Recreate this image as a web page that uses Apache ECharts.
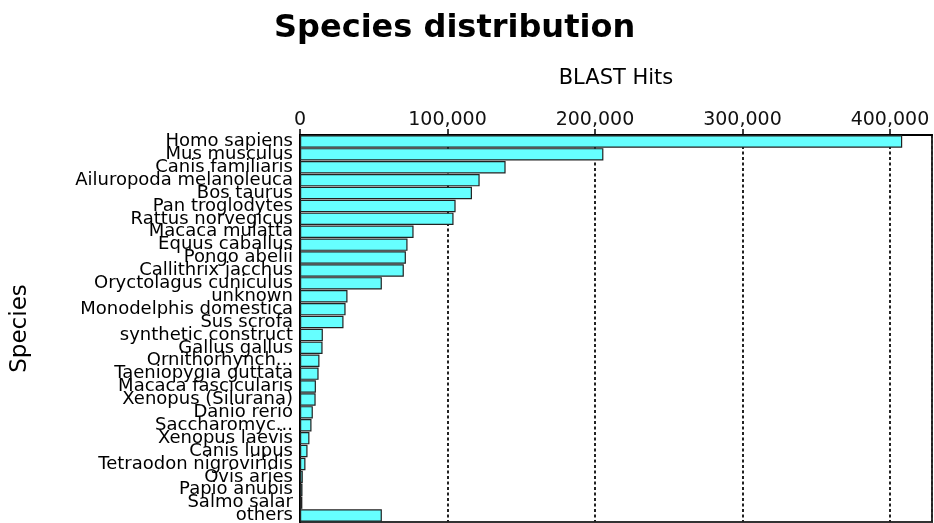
<!DOCTYPE html>
<html>
<head>
<meta charset="utf-8">
<script src="https://cdn.jsdelivr.net/npm/echarts@6/dist/echarts.min.js"></script>
<style>
html,body{margin:0;padding:0;background:#fff;}
#chart{width:934px;height:523px;}
</style>
</head>
<body>
<div id="chart"></div>
<script>
var species = [
  "Homo sapiens", "Mus musculus", "Canis familiaris", "Ailuropoda melanoleuca",
  "Bos taurus", "Pan troglodytes", "Rattus norvegicus", "Macaca mulatta",
  "Equus caballus", "Pongo abelii", "Callithrix jacchus", "Oryctolagus cuniculus",
  "unknown", "Monodelphis domestica", "Sus scrofa", "synthetic construct",
  "Gallus gallus", "Ornithorhynch...", "Taeniopygia guttata", "Macaca fascicularis",
  "Xenopus (Silurana)", "Danio rerio", "Saccharomyc...", "Xenopus laevis",
  "Canis lupus", "Tetraodon nigroviridis", "Ovis aries", "Papio anubis",
  "Salmo salar", "others"
];
var blastHits = [
  408300, 205700, 139400, 121800,
  116600, 105500, 104100, 77000,
  72900, 71800, 70400, 55500,
  32200, 30900, 29500, 15500,
  15300, 13200, 12600, 10800,
  10600, 8700, 7800, 6400,
  5100, 3700, 1900, 1700,
  1600, 55500
];
var xTicks = [0, 100000, 200000, 300000, 400000];

var chart = echarts.init(document.getElementById('chart'), null, {renderer: 'canvas'});
var font = 'DejaVu Sans';
chart.setOption({
  animation: false,
  backgroundColor: '#ffffff',
  title: {
    text: 'Species distribution',
    left: 274,
    top: 13,
    padding: 0,
    textStyle: {fontFamily: font, fontWeight: 'bold', fontSize: 32, color: '#000'}
  },
  grid: {
    left: 300, right: 2, top: 135, bottom: 1,
    containLabel: false,
    outerBoundsMode: 'none',
    show: true, borderColor: '#333', borderWidth: 2, backgroundColor: 'transparent'
  },
  xAxis: {
    type: 'value',
    position: 'top',
    min: xTicks[0],
    max: 428500,
    interval: xTicks[1] - xTicks[0],
    name: 'BLAST Hits',
    nameLocation: 'middle',
    nameGap: 46,
    nameTextStyle: {fontFamily: font, fontSize: 21, color: '#000'},
    axisLine: {show: true, lineStyle: {color: '#000', width: 2}},
    axisTick: {show: true, inside: false, length: 6, lineStyle: {color: '#000', width: 1.5}},
    axisLabel: {
      fontFamily: font, fontSize: 19, color: '#111', margin: 5,
      showMinLabel: true, showMaxLabel: false,
      formatter: function (v) { return xTicks.indexOf(v) >= 0 ? v.toLocaleString('en-US') : ''; }
    },
    splitLine: {show: true, lineStyle: {color: '#222', width: 2, type: [3, 2.5]}}
  },
  yAxis: {
    type: 'category',
    inverse: true,
    data: species,
    name: 'Species',
    nameLocation: 'middle',
    nameGap: 268,
    nameRotate: 90,
    nameTextStyle: {fontFamily: font, fontSize: 23, color: '#000'},
    axisLine: {show: true, lineStyle: {color: '#000', width: 2}},
    axisTick: {show: false},
    axisLabel: {fontFamily: font, fontSize: 18, color: '#000', margin: 7, interval: 0},
    splitLine: {show: false}
  },
  series: [{
    type: 'bar',
    data: blastHits,
    barCategoryGap: '4%',
    itemStyle: {color: '#66ffff', borderColor: '#222', borderWidth: 1.2}
  }]
});
</script>
</body>
</html>
